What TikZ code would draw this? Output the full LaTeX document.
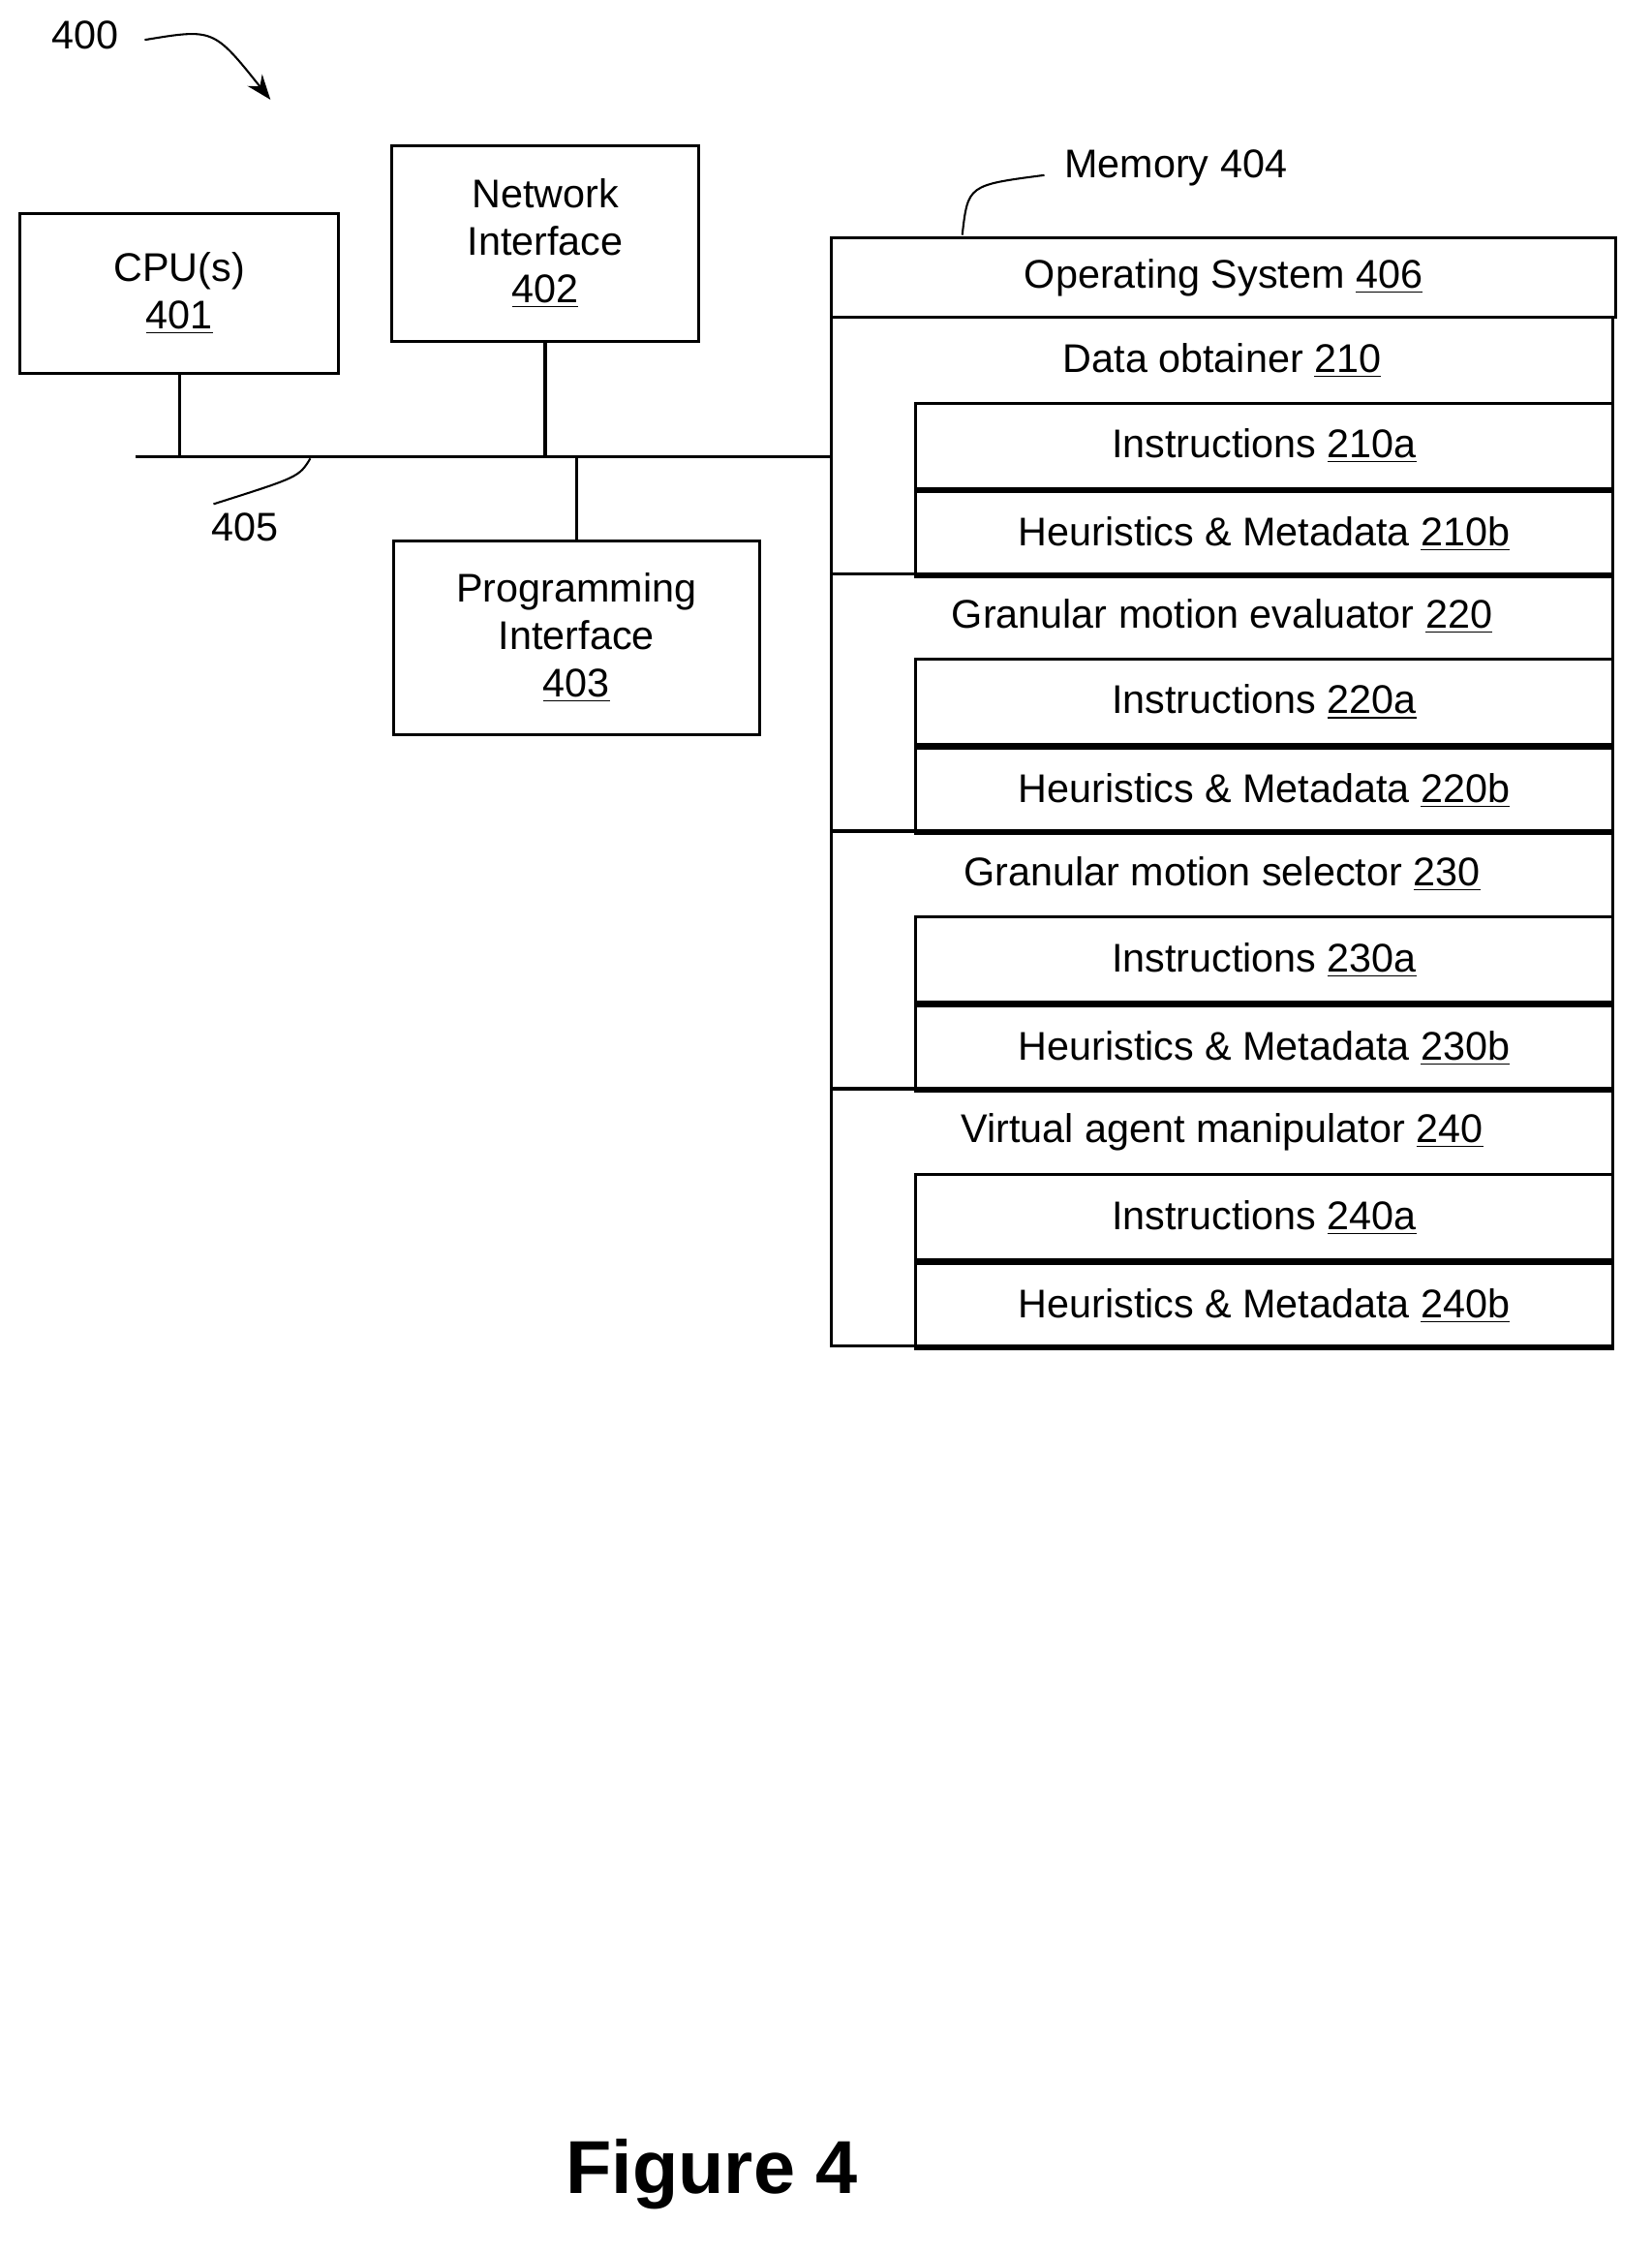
\documentclass[tikz,border=0pt]{standalone}
\usepackage{fontspec}
\setmainfont{Liberation Sans}
\usetikzlibrary{positioning, calc, arrows.meta}

\tikzset{
  box/.style={draw, line width=1.2pt, inner sep=0pt, align=center, font=\fontsize{16}{19}\selectfont},
  row/.style={draw, line width=1.2pt, anchor=north west, inner sep=0pt, inner xsep=5pt,
    minimum height=60*0.02cm, align=left, font=\fontsize{16}{19}\selectfont},
  lbl/.style={font=\fontsize{16}{19}\selectfont},
  wire/.style={line width=1.2pt},
  lead/.style={line width=0.8pt}
}

\begin{document}
\begin{tikzpicture}[x=0.02cm, y=-0.02cm]

  \useasboundingbox (0,0) rectangle (1160,1583);

  % figure reference
  \node[lbl] (fig) at (60,25) {400};
  \coordinate (figarr) at (190,70);
  \draw[lead, -{Stealth[length=10pt]}] (fig.east) ++(12,3) .. controls (150,20) .. (figarr);

  % boxes on the bus
  \node[box, minimum width=224*0.02cm, minimum height=112*0.02cm] (cpu) at (126,206)
    {CPU(s)\\\underline{401}};
  \node[box, minimum width=216*0.02cm, minimum height=137*0.02cm] (net) at (383,171)
    {Network\\Interface\\\underline{402}};
  \node[box, minimum width=257*0.02cm, minimum height=136*0.02cm] (prog) at (405,448)
    {Programming\\Interface\\\underline{403}};

  % memory
  \node[row, minimum width=551*0.02cm, minimum height=56*0.02cm] (os) at (583,166)
    {Operating System \underline{406}};
  \node[lbl] (mem) at (826,118) {Memory 404};
  \coordinate (memend) at (676,165);
  \draw[lead] (mem.west) ++(-8,5) .. controls (680,130) .. (memend);

  \foreach \n/\t/\y in {210/Data obtainer/222, 220/Granular motion evaluator/402,
                        230/Granular motion selector/583, 240/Virtual agent manipulator/764} {
    \node[row, minimum width=549*0.02cm, minimum height=180*0.02cm] (m\n) at (583,\y) {};
    \node[row, draw=none, minimum width=549*0.02cm, minimum height=60*0.02cm] (h\n) at (583,\y)
      {\t\ \underline{\n}};
    \node[row, minimum width=490*0.02cm] (i\n) at ($(583,\y)+(59,60)$)
      {Instructions \underline{\n a}};
    \node[row, minimum width=490*0.02cm] (k\n) at (i\n.south west)
      {Heuristics \& Metadata \underline{\n b}};
  }

  % bus 405
  \coordinate (bl) at (95,321);
  \draw[wire] (bl) -- (m210.west |- bl);
  \draw[wire] (cpu.south) -- (cpu.south |- bl);
  \draw[wire] (net.south) -- (net.south |- bl);
  \draw[wire] (prog.north) -- (prog.north |- bl);
  \node[lbl] (bus) at (172,370) {405};
  \coordinate (busend) at (218,322);
  \draw[lead] (150,354) .. controls (210,335) .. (busend);

  \node[font=\bfseries\fontsize{30}{34}\selectfont] (title) at (500,1527) {Figure 4};

\end{tikzpicture}
\end{document}
